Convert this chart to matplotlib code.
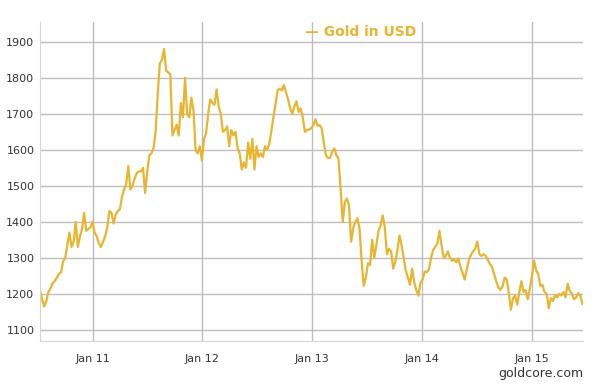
import matplotlib
matplotlib.use("Agg")
import matplotlib.pyplot as plt
import matplotlib.dates as mdates
import pandas as pd

# weekly gold price (USD/oz), starting 9 Jul 2010
start_date = "2010-07-09"
gold_usd = [
    1210, 1185, 1165, 1180, 1205, 1215, 1230, 1235, 1245, 1255,
    1260, 1290, 1300, 1335, 1370, 1330, 1345, 1400, 1330, 1360,
    1380, 1425, 1375, 1380, 1385, 1400, 1370, 1360, 1340, 1330,
    1345, 1360, 1385, 1430, 1425, 1395, 1420, 1430, 1435, 1470,
    1490, 1505, 1555, 1490, 1500, 1520, 1535, 1540, 1540, 1550,
    1480, 1540, 1585, 1590, 1605, 1650, 1755, 1840, 1850, 1880,
    1820, 1815, 1810, 1640, 1655, 1670, 1640, 1730, 1690, 1800,
    1700, 1690, 1745, 1710, 1600, 1590, 1610, 1570, 1630, 1645,
    1700, 1740, 1730, 1725, 1768, 1720, 1700, 1650, 1655, 1665,
    1610, 1655, 1640, 1650, 1605, 1590, 1545, 1565, 1550, 1620,
    1575, 1630, 1545, 1610, 1580, 1590, 1580, 1610, 1600, 1615,
    1650, 1690, 1725, 1765, 1770, 1765, 1780, 1760, 1740, 1715,
    1700, 1720, 1735, 1705, 1715, 1690, 1650, 1655, 1656, 1660,
    1668, 1685, 1667, 1668, 1660, 1620, 1585, 1577, 1578, 1595,
    1604, 1585, 1575, 1490, 1400, 1455, 1465, 1445, 1345, 1383,
    1400, 1410, 1380, 1290, 1222, 1245, 1285, 1280, 1350, 1300,
    1335, 1375, 1390, 1418, 1385, 1310, 1325, 1318, 1270, 1290,
    1320, 1362, 1335, 1300, 1265, 1245, 1225, 1270, 1232, 1210,
    1195, 1230, 1240, 1262, 1260, 1268, 1300, 1322, 1330, 1340,
    1375, 1335, 1300, 1305, 1318, 1300, 1292, 1295, 1288, 1298,
    1275, 1258, 1240, 1268, 1295, 1308, 1318, 1325, 1345, 1310,
    1305, 1310, 1305, 1295, 1283, 1275, 1255, 1235, 1218, 1211,
    1220, 1245, 1240, 1202, 1156, 1188, 1195, 1170, 1205, 1235,
    1205, 1210, 1185, 1215, 1250, 1292, 1265, 1255, 1222, 1225,
    1205, 1200, 1160, 1188, 1180, 1197, 1190, 1200, 1195, 1205,
    1190, 1228, 1208, 1200, 1185, 1190, 1202, 1195, 1172,
]
dates = pd.date_range(start=start_date, periods=len(gold_usd), freq="7D")

line_color = "#E8B530"
grid_color = "#bdbdbd"
text_color = "#333333"

fig = plt.figure(figsize=(6.09, 3.90), dpi=100)
ax = fig.add_axes([40 / 609, 49 / 390, 543 / 609, 319 / 390])

ax.plot(dates, gold_usd, color=line_color, linewidth=1.6)

ax.set_ylim(1069, 1955)
ax.set_yticks(range(1100, 2000, 100))
ax.set_xlim(pd.Timestamp("2010-07-09"), pd.Timestamp("2015-06-21"))
ax.xaxis.set_major_locator(mdates.YearLocator())
ax.xaxis.set_major_formatter(mdates.DateFormatter("Jan %y"))

ax.grid(True, color=grid_color, linewidth=1)
ax.set_axisbelow(True)
for side in ["top", "right"]:
    ax.spines[side].set_visible(False)
for side in ["left", "bottom"]:
    ax.spines[side].set_color("#d4d4d4")
ax.tick_params(length=0, labelsize=8, colors=text_color)
ax.tick_params(axis="y", pad=4)
ax.tick_params(axis="x", pad=9)

fig.text(305 / 609, 1 - 32 / 390, "\u2014 Gold in USD", color=line_color,
         fontsize=10, fontweight="bold", va="center", ha="left")
fig.text(583 / 609, 1 - 373 / 390, "goldcore.com", color=text_color,
         fontsize=9, va="center", ha="right")

fig.savefig("out.png", dpi=100)
